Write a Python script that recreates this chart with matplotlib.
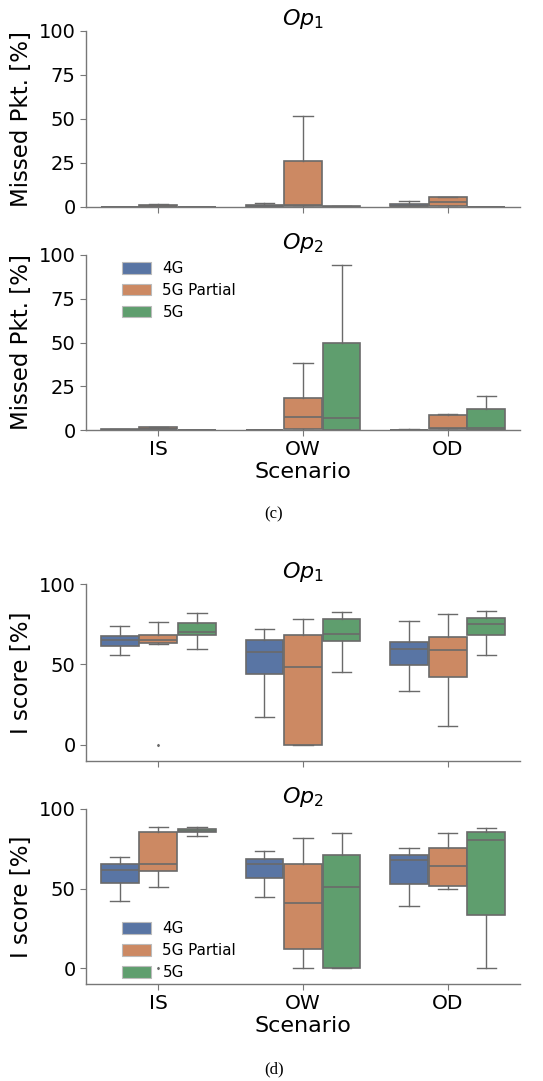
import colorsys
import matplotlib
matplotlib.use("Agg")
import matplotlib.pyplot as plt
import matplotlib.colors as mcolors
from matplotlib.patches import Patch

plt.rcParams.update({
    "font.family": "DejaVu Sans",
    "axes.spines.top": False,
    "axes.spines.right": False,
})

# -- data: (whislo, q1, median, q3, whishi) for IS, OW, OD ---------------------
scenarios = ["IS", "OW", "OD"]
techs = ["4G", "5G Partial", "5G"]

miss_op1_4g = [(0, 0, 0, 0, 0), (0, 0.2, 0.5, 0.9, 2.5), (0, 0.3, 0.8, 1.5, 3.4)]
miss_op1_5gp = [(0, 0.2, 0.6, 1.1, 1.7), (0, 0.5, 1.0, 26.0, 51.8), (0, 0.8, 2.6, 5.5, 5.7)]
miss_op1_5g = [(0, 0, 0, 0, 0), (0, 0, 0.2, 0.4, 0.5), (0, 0, 0, 0, 0)]

miss_op2_4g = [(0, 0, 0.1, 0.3, 0.8), (0, 0, 0.1, 0.2, 0.2), (0, 0, 0.1, 0.2, 0.3)]
miss_op2_5gp = [(0, 0.3, 0.8, 1.5, 1.8), (0, 0.5, 7.2, 18.5, 38.3), (0, 0.5, 0.9, 8.4, 9.3)]
miss_op2_5g = [(0, 0, 0.1, 0.2, 0.2), (0, 0, 7.0, 49.5, 94.5), (0, 0.2, 1.0, 11.8, 19.6)]

isc_op1_4g = [(55.9, 61.7, 65.1, 67.6, 74.2), (17.3, 44.3, 58.0, 64.9, 71.9), (33.3, 49.7, 59.5, 64.0, 77.1)]
isc_op1_5gp = [(62.6, 63.2, 65.1, 68.4, 76.5), (0, 0, 48.6, 68.6, 78.0), (11.9, 42.2, 58.8, 67.2, 81.1)]
isc_op1_5g = [(59.7, 68.4, 70.3, 75.5, 82.1), (45.3, 64.7, 68.8, 78.0, 82.5), (55.9, 68.2, 75.3, 78.6, 83.2)]
isc_op1_fliers = {(1, 0): [0.0]}  # (tech, scenario) -> outliers

isc_op2_4g = [(42.1, 53.8, 61.5, 65.5, 69.7), (44.4, 56.9, 65.5, 68.6, 73.8), (39.3, 52.9, 68.0, 71.1, 75.5)]
isc_op2_5gp = [(50.8, 61.1, 65.3, 85.4, 88.9), (0, 11.9, 41.0, 65.7, 82.0), (50.0, 51.5, 64.2, 75.3, 84.7)]
isc_op2_5g = [(83.1, 85.4, 86.4, 87.2, 88.7), (0, 0, 50.8, 71.3, 84.7), (0, 33.5, 80.5, 85.6, 87.9)]
isc_op2_fliers = {(1, 0): [0.0]}

# -- style ----------------------------------------------------------------------
def desat(c, prop=0.75):
    h, l, s = colorsys.rgb_to_hls(*mcolors.to_rgb(c))
    return colorsys.hls_to_rgb(h, l, s * prop)

PAL = [desat(c) for c in ["#4C72B0", "#DD8452", "#55A868"]]
LINE = "#6a6a6a"
SPINE = "#777777"

W, H = 543, 1081
fig = plt.figure(figsize=(W / 100, H / 100), dpi=100)


def add_ax(left, top, right, bottom):
    return fig.add_axes([left / W, 1 - bottom / H, (right - left) / W, (bottom - top) / H])


def draw(ax, series, fliers, ylim, ylabel, title, xlabels):
    bw = 0.8 / 3
    for t, stats in enumerate(series):
        recs = []
        for s, (lo, q1, med, q3, hi) in enumerate(stats):
            recs.append(dict(whislo=lo, q1=q1, med=med, q3=q3, whishi=hi,
                             fliers=fliers.get((t, s), [])))
        pos = [s + (t - 1) * bw for s in range(len(stats))]
        ax.bxp(recs, positions=pos, widths=bw * 0.98, capwidths=bw / 2,
               patch_artist=True, manage_ticks=False,
               boxprops=dict(facecolor=PAL[t], edgecolor=LINE, lw=1.2),
               medianprops=dict(color=LINE, lw=1.2),
               whiskerprops=dict(color=LINE, lw=1.0),
               capprops=dict(color=LINE, lw=1.0),
               flierprops=dict(marker="d", ms=1.2, mfc=LINE, mec=LINE))
    ax.set_xlim(-0.5, 2.5)
    ax.set_ylim(*ylim)
    ax.set_yticks([0, 50, 100] if ylim[0] < 0 else [0, 25, 50, 75, 100])
    ax.set_xticks(range(3))
    ax.set_xticklabels(scenarios if xlabels else [])
    ax.tick_params(axis="y", labelsize=14, color=SPINE, length=4)
    ax.tick_params(axis="x", labelsize=14.5, color=SPINE, length=4)
    for sp in ("left", "bottom"):
        ax.spines[sp].set_color(SPINE)
        ax.spines[sp].set_linewidth(1.0)
    ax.set_ylabel(ylabel, fontsize=16.5, labelpad=4)
    ax.set_title(title, fontsize=16, pad=2)
    if xlabels:
        ax.set_xlabel("Scenario", fontsize=16, labelpad=2)


def legend(ax, loc, anchor):
    handles = [Patch(facecolor=c, edgecolor="#bbbbbb", lw=0.8, label=l)
               for c, l in zip(PAL, techs)]
    ax.legend(handles=handles, loc=loc, bbox_to_anchor=anchor, frameon=False,
              fontsize=10.9, handlelength=1.95, handleheight=0.8,
              handletextpad=0.75, labelspacing=0.45, borderaxespad=0)


axA = add_ax(86, 31, 520, 207)
axB = add_ax(86, 255, 520, 430)
axC = add_ax(86, 584, 520, 761)
axD = add_ax(86, 809, 520, 984)

draw(axA, [miss_op1_4g, miss_op1_5gp, miss_op1_5g], {}, (0, 100),
     "Missed Pkt. [%]", "$Op_1$", False)
draw(axB, [miss_op2_4g, miss_op2_5gp, miss_op2_5g], {}, (0, 100),
     "Missed Pkt. [%]", "$Op_2$", True)
draw(axC, [isc_op1_4g, isc_op1_5gp, isc_op1_5g], isc_op1_fliers, (-10, 100),
     "I score [%]", "$Op_1$", False)
draw(axD, [isc_op2_4g, isc_op2_5gp, isc_op2_5g], isc_op2_fliers, (-10, 100),
     "I score [%]", "$Op_2$", True)

legend(axB, "upper left", (0.068, 1.0))
legend(axD, "lower left", (0.068, -0.012))

fig.text(274 / W, 1 - 514 / H, "(c)", ha="center", va="center",
         fontsize=12, family="Liberation Serif")
fig.text(274 / W, 1 - 1069 / H, "(d)", ha="center", va="center",
         fontsize=12, family="Liberation Serif")

fig.savefig("out.png", dpi=100)
